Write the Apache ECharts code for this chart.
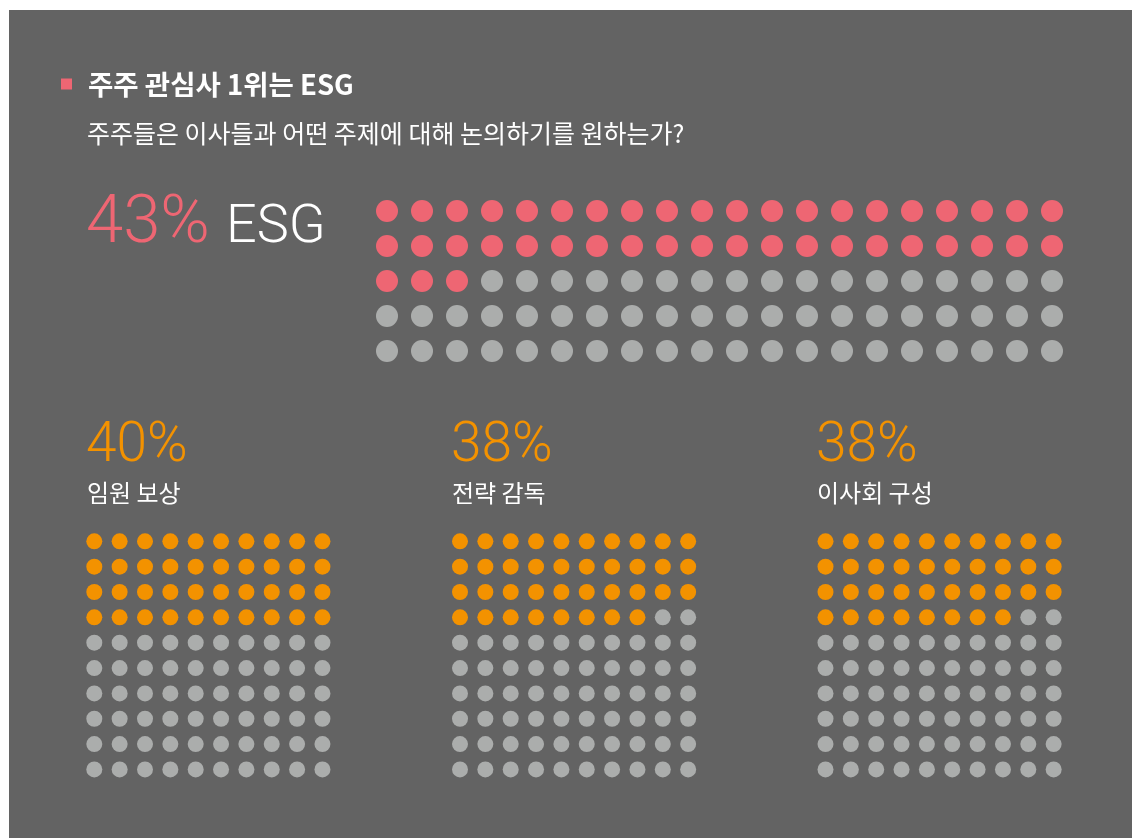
<!DOCTYPE html>
<html>
<head>
<meta charset="utf-8">
<script src="https://cdn.jsdelivr.net/npm/echarts@6/dist/echarts.min.js"></script>
<style>
html,body{margin:0;padding:0;background:#ffffff;}
#chart{width:1132px;height:838px;}
</style>
</head>
<body>
<div id="chart"></div>
<script>
// ---- data ----
const titleText = '주주 관심사 1위는 ESG';
const subtitleText = '주주들은 이사들과 어떤 주제에 대해 논의하기를 원하는가?';
const mainCategory = 'ESG';
const mainValue = 43;            // percent
const categories = ['임원 보상', '전략 감독', '이사회 구성'];
const values = [40, 38, 38];     // percent

// ---- style ----
const BG = '#636363';
const RED = '#EE6673';
const ORANGE = '#F39200';
const GREY = '#ABADAC';
const KR = '"Noto Sans CJK KR", "Noto Sans", sans-serif';
const NUM = 'Roboto, Lato, "Noto Sans", sans-serif';

function dots(value, cols, rows) {
  const on = [], off = [];
  const total = cols * rows;
  const n = Math.round(value * total / 100);
  for (let i = 0; i < total; i++) {
    const p = [i % cols, Math.floor(i / cols)];
    (i < n ? on : off).push(p);
  }
  return { on, off };
}

const grids = [], xAxes = [], yAxes = [], series = [];
function addWaffle(idx, left, top, cols, rows, step, size, value, color) {
  grids.push({ left: left, top: top, width: cols * step, height: rows * step });
  xAxes.push({ gridIndex: idx, type: 'value', min: -0.5, max: cols - 0.5, show: false });
  yAxes.push({ gridIndex: idx, type: 'value', min: -0.5, max: rows - 0.5, inverse: true, show: false });
  const d = dots(value, cols, rows);
  series.push({ type: 'scatter', xAxisIndex: idx, yAxisIndex: idx, symbol: 'circle', symbolSize: size,
    itemStyle: { color: color, opacity: 1 }, data: d.on, silent: true });
  series.push({ type: 'scatter', xAxisIndex: idx, yAxisIndex: idx, symbol: 'circle', symbolSize: size,
    itemStyle: { color: GREY, opacity: 1 }, data: d.off, silent: true });
}

// main ESG waffle 20 x 5
addWaffle(0, 387 - 17.5, 211 - 17.5, 20, 5, 35, 22, mainValue, RED);
// three small waffles 10 x 10
const smallStep = 25.35;
const smallLefts = [94.3, 460, 825.5];
values.forEach((v, i) => {
  addWaffle(i + 1, smallLefts[i] - smallStep / 2, 541.3 - smallStep / 2, 10, 10, smallStep, 16, v, ORANGE);
});

const graphics = [
  { type: 'rect', z: -10, shape: { x: 9, y: 10, width: 1123, height: 828 }, style: { fill: BG }, silent: true },
  { type: 'rect', shape: { x: 61, y: 78.5, width: 11, height: 11 }, style: { fill: RED } },
  { type: 'text', style: { x: 88, y: 85, text: titleText, font: 'bold 27.5px ' + KR, fill: '#ffffff', textVerticalAlign: 'middle' } },
  { type: 'text', style: { x: 87, y: 133, text: subtitleText, font: '25px ' + KR, fill: '#ffffff', textVerticalAlign: 'middle' } },
  { type: 'text', style: { x: 86, y: 259, text: mainValue + '%', font: '300 67px ' + NUM, fill: RED, textVerticalAlign: 'bottom' } },
  { type: 'text', style: { x: 226, y: 255, text: mainCategory, font: '300 54px ' + NUM, fill: '#ffffff', textVerticalAlign: 'bottom' } }
];
const numX = [86, 451, 816];
values.forEach((v, i) => {
  graphics.push({ type: 'text', style: { x: numX[i], y: 475, text: v + '%', font: '300 55px ' + NUM, fill: ORANGE, textVerticalAlign: 'bottom' } });
  graphics.push({ type: 'text', style: { x: numX[i] + 1, y: 493, text: categories[i], font: '24px ' + KR, fill: '#ffffff', textVerticalAlign: 'middle' } });
});

const chart = echarts.init(document.getElementById('chart'), null, { renderer: 'canvas' });
chart.setOption({
  backgroundColor: '#ffffff',
  animation: false,
  grid: grids,
  xAxis: xAxes,
  yAxis: yAxes,
  series: series,
  graphic: graphics
});
</script>
</body>
</html>
